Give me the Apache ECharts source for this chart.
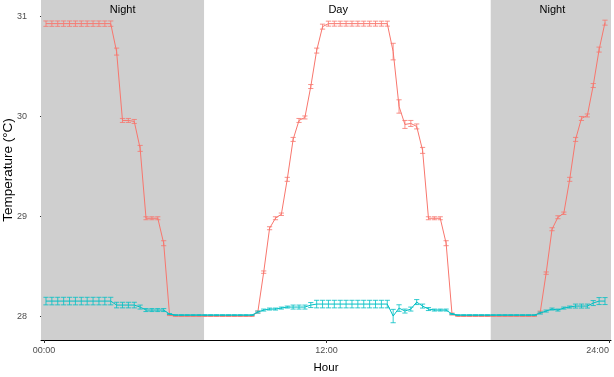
<!DOCTYPE html>
<html>
<head>
<meta charset="utf-8">
<script src="https://cdn.jsdelivr.net/npm/echarts@6/dist/echarts.min.js"></script>
<style>
  html, body { margin: 0; padding: 0; background: #fff; }
  #chart { width: 614px; height: 377px; }
</style>
</head>
<body>
<div id="chart"></div>
<script>
// sampling: every 15 min, logged at hh:05, hh:20, ...
const hours = Array.from({ length: 96 }, (_, i) => i * 0.25 + 0.085);

// red series (upper) mean and error
const redTemp = [
  30.93, 30.93, 30.93, 30.93, 30.93, 30.93, 30.93, 30.93, 30.93, 30.93, 30.93, 30.93,
  30.65, 29.96, 29.96, 29.95, 29.68, 28.98, 28.98, 28.98, 28.73, 28.01,
  28.00, 28.00, 28.00, 28.00, 28.00, 28.00, 28.00, 28.00, 28.00, 28.00, 28.00, 28.00, 28.00, 28.00,
  28.04, 28.44, 28.88, 28.98, 29.02, 29.37, 29.77, 29.96, 29.99, 30.30, 30.66, 30.90,
  30.93, 30.93, 30.93, 30.93, 30.93, 30.93, 30.93, 30.93, 30.93, 30.93, 30.93,
  30.65, 30.10, 29.92, 29.93, 29.90, 29.66, 28.98, 28.98, 28.98, 28.73, 28.02,
  28.00, 28.00, 28.00, 28.00, 28.00, 28.00, 28.00, 28.00, 28.00, 28.00, 28.00, 28.00, 28.00, 28.00,
  28.04, 28.43, 28.87, 28.99, 29.03, 29.37, 29.77, 29.98, 30.01, 30.31, 30.67, 30.94,
];
const redErr = [
  0.027, 0.027, 0.027, 0.027, 0.027, 0.027, 0.027, 0.027, 0.027, 0.027, 0.027, 0.027,
  0.035, 0.02, 0.02, 0.02, 0.03, 0.015, 0.015, 0.015, 0.025, 0.005,
  0.003, 0.003, 0.003, 0.003, 0.003, 0.003, 0.003, 0.003, 0.003, 0.003, 0.003, 0.003, 0.003, 0.003,
  0.01, 0.012, 0.015, 0.015, 0.012, 0.02, 0.02, 0.02, 0.015, 0.02, 0.025, 0.025,
  0.025, 0.025, 0.025, 0.025, 0.025, 0.025, 0.025, 0.025, 0.025, 0.025, 0.025,
  0.083, 0.067, 0.04, 0.03, 0.025, 0.03, 0.015, 0.015, 0.015, 0.025, 0.01,
  0.003, 0.003, 0.003, 0.003, 0.003, 0.003, 0.003, 0.003, 0.003, 0.003, 0.003, 0.003, 0.003, 0.003,
  0.01, 0.012, 0.015, 0.015, 0.012, 0.02, 0.02, 0.02, 0.015, 0.02, 0.025, 0.025,
];

// cyan series (lower) mean and error
const cyanTemp = [
  28.15, 28.15, 28.15, 28.15, 28.15, 28.15, 28.15, 28.15, 28.15, 28.15, 28.15, 28.15,
  28.11, 28.11, 28.11, 28.11, 28.09, 28.06, 28.06, 28.06, 28.06, 28.02,
  28.01, 28.01, 28.01, 28.01, 28.01, 28.01, 28.01, 28.01, 28.01, 28.01, 28.01, 28.01, 28.01, 28.01,
  28.04, 28.06, 28.07, 28.07, 28.08, 28.09, 28.09, 28.09, 28.09, 28.11, 28.12, 28.12,
  28.12, 28.12, 28.12, 28.12, 28.12, 28.12, 28.12, 28.12, 28.12, 28.12, 28.12,
  28.00, 28.08, 28.05, 28.07, 28.14, 28.10, 28.07, 28.06, 28.06, 28.06, 28.02,
  28.01, 28.01, 28.01, 28.01, 28.01, 28.01, 28.01, 28.01, 28.01, 28.01, 28.01, 28.01, 28.01, 28.01,
  28.03, 28.05, 28.07, 28.06, 28.08, 28.09, 28.10, 28.10, 28.10, 28.13, 28.15, 28.15,
];
const cyanErr = [
  0.038, 0.038, 0.038, 0.038, 0.038, 0.038, 0.038, 0.038, 0.038, 0.038, 0.038, 0.038,
  0.028, 0.028, 0.028, 0.028, 0.02, 0.015, 0.015, 0.015, 0.015, 0.005,
  0.003, 0.003, 0.003, 0.003, 0.003, 0.003, 0.003, 0.003, 0.003, 0.003, 0.003, 0.003, 0.003, 0.003,
  0.01, 0.01, 0.01, 0.01, 0.01, 0.01, 0.02, 0.02, 0.02, 0.025, 0.038, 0.038,
  0.038, 0.038, 0.038, 0.038, 0.038, 0.038, 0.038, 0.038, 0.038, 0.038, 0.038,
  0.067, 0.033, 0.02, 0.02, 0.025, 0.02, 0.015, 0.01, 0.01, 0.01, 0.005,
  0.003, 0.003, 0.003, 0.003, 0.003, 0.003, 0.003, 0.003, 0.003, 0.003, 0.003, 0.003, 0.003, 0.003,
  0.01, 0.01, 0.01, 0.01, 0.01, 0.01, 0.02, 0.02, 0.02, 0.025, 0.035, 0.035,
];

// shaded night periods (hours) and labels
const nightSpans = [['min', 6.8], [18.98, 'max']];
const periodLabels = [
  { name: 'Night', hour: 3.34 },
  { name: 'Day', hour: 12.5 },
  { name: 'Night', hour: 21.6 },
];
const xTicks = [0, 12, 24];
const yTicks = [28, 29, 30, 31];

const colors = ['#F8766D', '#00BFC4'];
const font = 'Liberation Sans, Arial, Helvetica, sans-serif';

const chart = echarts.init(document.getElementById('chart'));

function errorBars(color) {
  return (params, api) => {
    const x = api.value(0);
    const lo = api.coord([x, api.value(1)]);
    const hi = api.coord([x, api.value(2)]);
    const w = 2.6;
    const style = { stroke: color, lineWidth: 1, opacity: 0.8 };
    return {
      type: 'group',
      children: [
        { type: 'line', shape: { x1: lo[0], y1: lo[1], x2: hi[0], y2: hi[1] }, style },
        { type: 'line', shape: { x1: lo[0] - w, y1: lo[1], x2: lo[0] + w, y2: lo[1] }, style },
        { type: 'line', shape: { x1: hi[0] - w, y1: hi[1], x2: hi[0] + w, y2: hi[1] }, style },
      ],
    };
  };
}

const option = {
  animation: false,
  textStyle: { fontFamily: font },
  grid: { left: 41, right: 3, top: 0, bottom: 37, containLabel: false, outerBoundsMode: 'none' },
  xAxis: {
    type: 'value',
    min: -0.127,
    max: 24.09,
    name: 'Hour',
    nameLocation: 'middle',
    nameGap: 22,
    nameMoveOverlap: false,
    nameTextStyle: { color: '#000', fontSize: 11.5, fontFamily: font },
    axisLine: { show: true, lineStyle: { color: '#000', width: 1 } },
    axisTick: { show: true, length: 3, lineStyle: { color: '#333' }, customValues: xTicks },
    axisLabel: {
      color: '#4D4D4D',
      fontSize: 9,
      margin: 6,
      customValues: xTicks,
      alignMaxLabel: 'right',
      formatter: (v) => String(v).padStart(2, '0') + ':00',
    },
    splitLine: { show: false },
  },
  yAxis: {
    type: 'value',
    min: 27.76,
    max: 31.167,
    name: 'Temperature (°C)',
    nameLocation: 'middle',
    nameGap: 26,
    nameMoveOverlap: false,
    nameTextStyle: { color: '#000', fontSize: 13.5, fontFamily: font },
    axisLine: { show: true, lineStyle: { color: '#000', width: 1 } },
    axisTick: { show: true, length: 4, lineStyle: { color: '#333' }, customValues: yTicks },
    axisLabel: { color: '#4D4D4D', fontSize: 9, margin: 14, customValues: yTicks },
    splitLine: { show: false },
  },
  series: [
    {
      // background shading + period labels
      type: 'line',
      data: [],
      silent: true,
      z: 0,
      markArea: {
        silent: true,
        itemStyle: { color: '#CFCFCF' },
        data: nightSpans.map((s) => [{ xAxis: s[0] }, { xAxis: s[1] }]),
      },
      markPoint: {
        silent: true,
        symbol: 'rect',
        symbolSize: 0,
        label: { show: true, position: 'inside', formatter: '{b}', color: '#000', fontSize: 11, fontFamily: font },
        data: periodLabels.map((p) => ({ name: p.name, coord: [p.hour, 31.067] })),
      },
    },
    {
      type: 'line',
      data: hours.map((h, i) => [h, redTemp[i]]),
      symbol: 'none',
      lineStyle: { color: colors[0], width: 1 },
      z: 2,
    },
    {
      type: 'custom',
      data: hours.map((h, i) => [h, redTemp[i] - redErr[i], redTemp[i] + redErr[i]]),
      encode: { x: 0, y: [1, 2] },
      renderItem: errorBars(colors[0]),
      z: 2,
    },
    {
      type: 'line',
      data: hours.map((h, i) => [h, cyanTemp[i]]),
      symbol: 'none',
      lineStyle: { color: colors[1], width: 1 },
      z: 3,
    },
    {
      type: 'custom',
      data: hours.map((h, i) => [h, cyanTemp[i] - cyanErr[i], cyanTemp[i] + cyanErr[i]]),
      encode: { x: 0, y: [1, 2] },
      renderItem: errorBars(colors[1]),
      z: 3,
    },
  ],
};

chart.setOption(option);
</script>
</body>
</html>
